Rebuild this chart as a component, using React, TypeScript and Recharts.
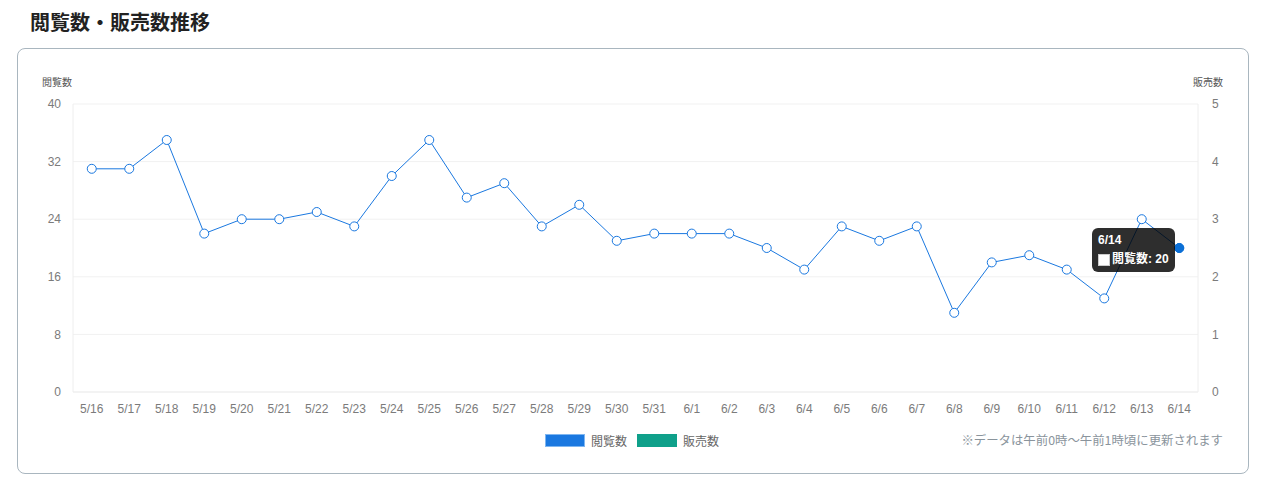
import { ComposedChart, Line, Bar, XAxis, YAxis, CartesianGrid, Tooltip } from 'recharts';

const dates = [
  '5/16', '5/17', '5/18', '5/19', '5/20', '5/21', '5/22', '5/23', '5/24', '5/25',
  '5/26', '5/27', '5/28', '5/29', '5/30', '5/31', '6/1', '6/2', '6/3', '6/4',
  '6/5', '6/6', '6/7', '6/8', '6/9', '6/10', '6/11', '6/12', '6/13', '6/14',
];
const views = [31, 31, 35, 22, 24, 24, 25, 23, 30, 35, 27, 29, 23, 26, 21, 22, 22, 22, 20, 17, 23, 21, 23, 11, 18, 19, 17, 13, 24, 20];
const sales = [0, 0, 0, 0, 0, 0, 0, 0, 0, 0, 0, 0, 0, 0, 0, 0, 0, 0, 0, 0, 0, 0, 0, 0, 0, 0, 0, 0, 0, 0];
const viewTicks = [0, 8, 16, 24, 32, 40];
const salesTicks = [0, 1, 2, 3, 4, 5];

const data = dates.map((d, i) => ({ date: d, views: views[i], sales: sales[i] }));

const FONT = '"Liberation Sans", Arial, "Noto Sans CJK JP", sans-serif';
const JP = '"Noto Sans CJK JP", sans-serif';
const BLUE = '#1a78e0';
const GREEN = '#0fa08a';

function TipBox({ active, payload, label }: any) {
  if (!active || !payload || payload.length === 0) return null;
  const p = payload.find((x: any) => x.dataKey === 'views') || payload[0];
  return (
    <div
      style={{
        background: 'rgba(0,0,0,0.82)',
        borderRadius: 6,
        padding: '5px 6px 5px 6px',
        color: '#fff',
        fontSize: 12,
        fontFamily: FONT,
        lineHeight: '15px',
        whiteSpace: 'nowrap',
      }}
    >
      <div style={{ fontWeight: 'bold', marginBottom: 4 }}>{label}</div>
      <div style={{ display: 'flex', alignItems: 'center', fontWeight: 'bold' }}>
        <span
          style={{
            display: 'inline-block',
            width: 10,
            height: 10,
            background: '#fff',
            border: '1px solid #ccc',
            marginRight: 2,
          }}
        />
        閲覧数: {p.value}
      </div>
    </div>
  );
}

export default function App() {
  return (
    <div style={{ position: 'relative', width: 1264, height: 485, margin: -8, fontFamily: FONT }}>
      <div
        style={{
          position: 'absolute',
          left: 30,
          top: 7,
          fontSize: 20,
          fontWeight: 'bold',
          color: '#222',
          fontFamily: JP,
        }}
      >
        閲覧数・販売数推移
      </div>
      <div
        style={{
          position: 'absolute',
          left: 17,
          top: 48,
          width: 1230,
          height: 424,
          border: '1px solid #a9b6bf',
          borderRadius: 8,
        }}
      />
      <div style={{ position: 'absolute', left: 42, top: 74, fontSize: 10, color: '#555', fontFamily: JP }}>
        閲覧数
      </div>
      <div style={{ position: 'absolute', left: 1193, top: 74, fontSize: 10, color: '#555', fontFamily: JP }}>
        販売数
      </div>
      <div style={{ position: 'absolute', left: 20, top: 60 }}>
        <ComposedChart width={1225} height={362} data={data} margin={{ top: 44, right: 0, left: 0, bottom: 0 }}>
          <CartesianGrid stroke="#f1f1f1" vertical={false} yAxisId="views" />
          <XAxis
            dataKey="date"
            tickLine={false}
            axisLine={{ stroke: '#eeeeee' }}
            tickSize={0}
            tickMargin={12}
            interval={0}
            height={30}
            tick={{ fill: '#7b7b7b', fontSize: 12 }}
          />
          <YAxis
            yAxisId="views"
            orientation="left"
            domain={[0, 40]}
            ticks={viewTicks}
            width={53}
            tickLine={false}
            axisLine={{ stroke: '#eeeeee' }}
            tickSize={0}
            tickMargin={12}
            tick={{ fill: '#7b7b7b', fontSize: 12 }}
          />
          <YAxis
            yAxisId="sales"
            orientation="right"
            domain={[0, 5]}
            ticks={salesTicks}
            width={47}
            tickLine={false}
            axisLine={{ stroke: '#eeeeee' }}
            tickSize={0}
            tickMargin={14}
            tick={{ fill: '#7b7b7b', fontSize: 12, textAnchor: 'start' }}
          />
          <Bar yAxisId="sales" dataKey="sales" fill={GREEN} isAnimationActive={false} />
          <Line
            yAxisId="views"
            type="linear"
            dataKey="views"
            stroke={BLUE}
            strokeWidth={1}
            dot={{ r: 4.5, fill: '#fff', stroke: BLUE, strokeWidth: 1 }}
            activeDot={{ r: 4.5, fill: '#0b6fd6', stroke: '#0b6fd6', strokeWidth: 1 }}
            isAnimationActive={false}
          />
          <Tooltip
            content={<TipBox />}
            cursor={false}
            defaultIndex={29}
            active={true}
            position={{ x: 1072, y: 168 }}
            isAnimationActive={false}
          />
        </ComposedChart>
      </div>
      <div
        style={{
          position: 'absolute',
          left: 545,
          top: 432,
          display: 'flex',
          alignItems: 'center',
          fontSize: 12,
          color: '#666',
          fontFamily: JP,
        }}
      >
        <span style={{ display: 'inline-block', width: 40, height: 13, background: BLUE, border: '1px solid #7fb6f0', boxSizing: 'border-box', marginRight: 6 }} />
        <span style={{ marginRight: 10 }}>閲覧数</span>
        <span style={{ display: 'inline-block', width: 40, height: 13, background: GREEN, marginRight: 6 }} />
        <span>販売数</span>
      </div>
      <div
        style={{
          position: 'absolute',
          right: 41,
          top: 431,
          fontSize: 12.4,
          color: '#8a949c',
          fontFamily: JP,
        }}
      >
        ※データは午前0時〜午前1時頃に更新されます
      </div>
    </div>
  );
}
